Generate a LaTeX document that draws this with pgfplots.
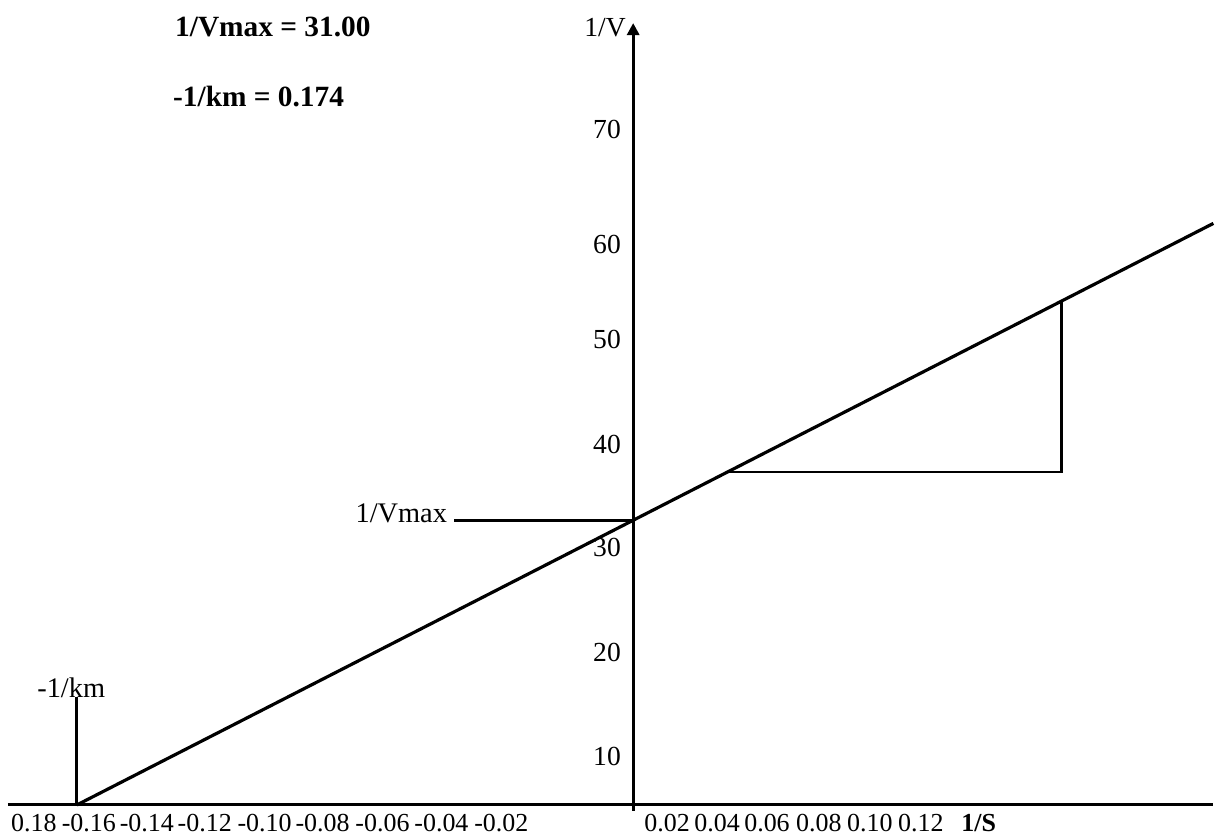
\documentclass[border=0pt]{standalone}
\usepackage{fontspec}
\setmainfont{Liberation Serif}
\usepackage{pgfplots}
\pgfplotsset{compat=1.18}
\usetikzlibrary{arrows.meta}
\begin{document}
\begin{tikzpicture}
\begin{axis}[
  width=607.5pt, height=418pt, scale only axis,
  xmin=-0.19806, xmax=0.18150, ymin=-3.263, ymax=87.67,
  enlargelimits=false, clip=false,
  axis x line*=middle, axis y line*=middle,
  axis line style={draw=none},
  major tick length=0pt,
  xtick={-0.18744,-0.17026,-0.15214,-0.13402,-0.11528,-0.09716,-0.07841,-0.05998,-0.04124,0.01062,0.02624,0.04186,0.05811,0.07404,0.08997,0.10809},
  xticklabels={0.18,-0.16,-0.14,-0.12,-0.10,-0.08,-0.06,-0.04,-0.02,0.02,0.04,0.06,0.08,0.10,0.12,{\bfseries 1/S}},
  ytick={73.53,61.02,50.68,39.26,28.06,16.64,5.33},
  yticklabels={70,60,50,40,30,20,10},
  xticklabel style={inner sep=0pt, anchor=north, yshift=-4.5pt, font=\fontsize{13}{14}\selectfont},
  yticklabel style={inner sep=0pt, anchor=east, xshift=-6pt, font=\fontsize{13.8}{15}\selectfont},
]
% axes
\addplot[black, line width=1.5pt, mark=none] coordinates {(-0.19556,0) (0.18150,0)};
\addplot[black, line width=1.5pt, mark=none, -{Triangle[length=6pt,width=6pt]}] coordinates {(0,-0.65) (0,85.16)};
% Lineweaver-Burk line
\addplot[black, line width=1.6pt, mark=none] coordinates {(-0.174,0) (0.18150,63.34)};
% 1/Vmax marker
\addplot[black, line width=1.5pt, mark=none] coordinates {(-0.05592,31) (0,31)};
% -1/km marker
\addplot[black, line width=1.5pt, mark=none] coordinates {(-0.17401,0) (-0.17401,11.75)};
% slope triangle
\addplot[black, line width=1.1pt, mark=none] coordinates {(0.0293,36.22) (0.1340,36.22) (0.1340,54.87)};
% texts
\node[anchor=base east, inner sep=0pt, font=\fontsize{13.8}{15}\selectfont] at (axis cs:-0.002187,83.64) {1/V};
\node[anchor=base west, inner sep=0pt, font=\fontsize{14.7}{16}\selectfont\bfseries] at (axis cs:-0.14339,83.64) {1/Vmax = 31.00};
\node[anchor=base west, inner sep=0pt, font=\fontsize{14.7}{16}\selectfont\bfseries] at (axis cs:-0.14402,76.03) {-1/km = 0.174};
\node[anchor=base east, inner sep=0pt, font=\fontsize{14.2}{16}\selectfont] at (axis cs:-0.05811,30.78) {1/Vmax};
\node[anchor=base west, inner sep=0pt, font=\fontsize{14.2}{16}\selectfont] at (axis cs:-0.18650,11.75) {-1/km};
\end{axis}
\end{tikzpicture}
\end{document}
